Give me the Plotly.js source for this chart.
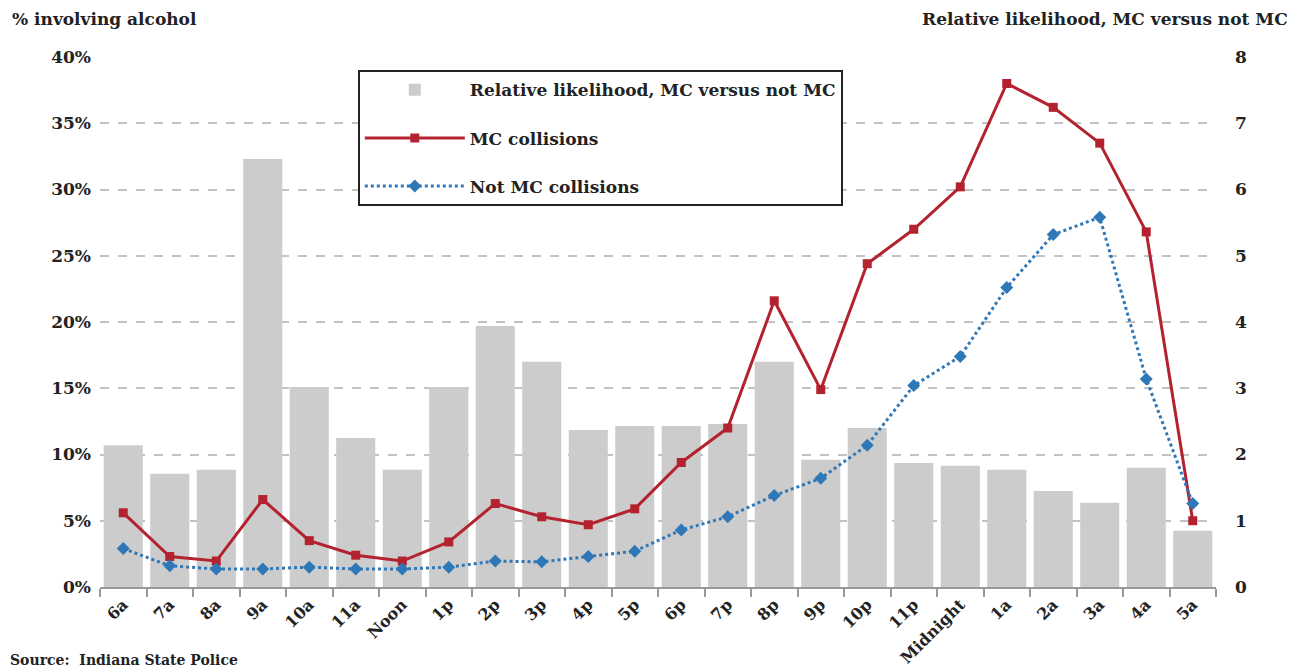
<!DOCTYPE html>
<html><head><meta charset="utf-8">
<script src="https://cdn.plot.ly/plotly-3.0.1.min.js"></script>
<style>html,body{margin:0;padding:0;background:#fff}#chart{width:1304px;height:668px}</style>
</head><body><div id="chart"></div>
<script>
const hours = ["6a","7a","8a","9a","10a","11a","Noon","1p","2p","3p","4p","5p","6p","7p","8p","9p","10p","11p","Midnight","1a","2a","3a","4a","5a"];
const relativeLikelihood = [2.14,1.71,1.77,6.46,3.02,2.25,1.77,3.02,3.94,3.40,2.37,2.43,2.43,2.46,3.40,1.92,2.40,1.87,1.83,1.77,1.45,1.27,1.80,0.85];
const mcCollisions = [5.6,2.3,1.96,6.6,3.5,2.4,1.96,3.4,6.3,5.3,4.7,5.9,9.4,12.0,21.6,14.9,24.4,27.0,30.2,38.0,36.2,33.5,26.8,5.0];
const notMcCollisions = [2.9,1.6,1.36,1.36,1.5,1.36,1.36,1.5,1.96,1.9,2.3,2.7,4.3,5.3,6.9,8.2,10.7,15.2,17.4,22.6,26.6,27.9,15.7,6.3];

const FONT = "DejaVu Serif, Liberation Serif, serif";
const f = (size) => ({family:FONT, size:size, color:"#222", weight:"bold"});
const data = [
  {type:"bar", x:hours, y:relativeLikelihood, yaxis:"y", name:"Relative likelihood, MC versus not MC",
   marker:{color:"#cccccc"}, legendgroup:"a"},
  {type:"scatter", mode:"lines+markers", x:hours, y:mcCollisions, yaxis:"y2", name:"MC collisions",
   line:{color:"#b3222e", width:3}, marker:{symbol:"square", size:9, color:"#b3222e"}, legendgroup:"b"},
  {type:"scatter", mode:"lines+markers", x:hours, y:notMcCollisions, yaxis:"y2", name:"Not MC collisions",
   line:{color:"#2f78b8", width:3, dash:"dot"}, marker:{symbol:"diamond", size:10, color:"#2f78b8"}, legendgroup:"c"}
];
const layout = {
  width:1304, height:668,
  margin:{l:100, r:88, t:57, b:81},
  paper_bgcolor:"#fff", plot_bgcolor:"#fff",
  font:f(17),
  bargap:0.16,
  showlegend:true,
  legend:{x:0.231, y:0.975, xanchor:"left", yanchor:"top", bgcolor:"#fff", bordercolor:"#222", borderwidth:2,
          font:f(17), tracegroupgap:23, traceorder:"grouped", itemwidth:100},
  xaxis:{type:"category", tickson:"boundaries", ticks:"outside", ticklen:8, tickcolor:"#999", tickwidth:2,
         showline:true, linecolor:"#999", linewidth:2, tickangle:-45, showgrid:false,
         tickfont:f(16), range:[-0.5,23.5]},
  yaxis:{range:[0,8], dtick:1, side:"right", showgrid:false, zeroline:false, showline:false, ticks:"",
         tickfont:f(17), ticklabelstandoff:18},
  yaxis2:{range:[0,40], dtick:5, ticksuffix:"%", overlaying:"y", side:"left", showgrid:true, gridcolor:"#c2c2c2",
          gridwidth:2, griddash:"dash", zeroline:false, showline:false, ticks:"", tickfont:f(17), ticklabelstandoff:8},
  annotations:[
    {text:"% involving alcohol", xref:"paper", yref:"paper", x:-0.081, y:1.094, xanchor:"left", yanchor:"top",
     showarrow:false, font:f(17)},
    {text:"Relative likelihood, MC versus not MC", xref:"paper", yref:"paper", x:1.066, y:1.094, xanchor:"right", yanchor:"top",
     showarrow:false, font:f(17)},
    {text:"Source:  Indiana State Police", xref:"paper", yref:"paper", x:-0.082, y:-0.138, xanchor:"left", yanchor:"middle",
     showarrow:false, font:f(14)}
  ]
};
Plotly.newPlot("chart", data, layout, {displayModeBar:false, staticPlot:true});
</script></body></html>
